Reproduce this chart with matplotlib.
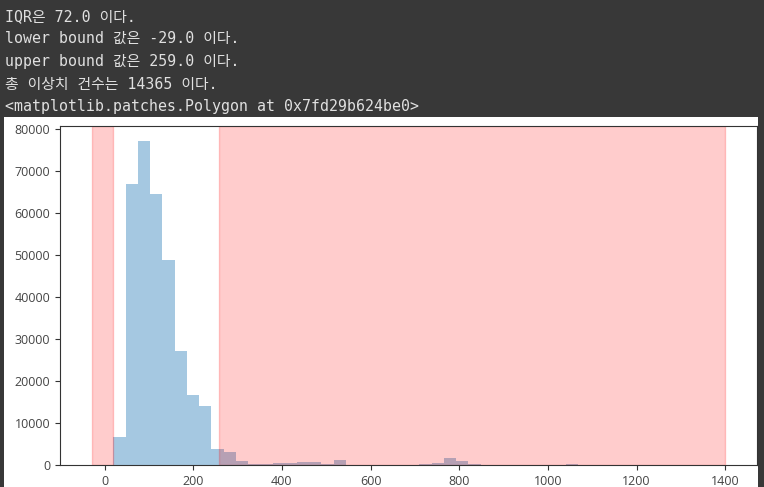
import numpy as np
import matplotlib
matplotlib.use('Agg')
import matplotlib.pyplot as plt
from matplotlib.patches import Rectangle

# notebook output printed above the chart
console_lines = [
    'IQR은 72.0 이다.',
    'lower bound 값은 -29.0 이다.',
    'upper bound 값은 259.0 이다.',
    '총 이상치 건수는 14365 이다.',
    '<matplotlib.patches.Polygon at 0x7fd29b624be0>',
]

lower_bound = -29.0
upper_bound = 259.0
data_min = 20.0
data_max = 1400.0
n_bins = 50

# histogram counts, one per bin
counts = [
    6600, 66800, 77200, 64400, 48800, 27100, 16700, 14000, 3700, 3000,
    900, 250, 250, 550, 550, 800, 800, 250, 1100, 60,
    40, 40, 40, 40, 60, 250, 550, 1700, 1000, 250,
    40, 30, 30, 30, 30, 30, 40, 250, 30, 20,
    20, 20, 20, 20, 20, 20, 20, 20, 20, 20,
]

x_ticks = [0, 200, 400, 600, 800, 1000, 1200, 1400]
y_ticks = [0, 10000, 20000, 30000, 40000, 50000, 60000, 70000, 80000]

W, H = 764, 487
fig = plt.figure(figsize=(W / 100, H / 100), dpi=100, facecolor='#383838')

mono = ['DejaVu Sans Mono', 'Noto Sans CJK KR']
for i, line in enumerate(console_lines):
    base = 20.7 + 22.6 * i
    fig.text(5 / W, 1 - base / H, line, family=mono, fontsize=10.7,
             color='#e0e0e0', va='baseline', ha='left')

# white output area behind the chart
fig.add_artist(Rectangle((4 / W, 0), (758 - 4) / W, (487 - 117) / H,
                         transform=fig.transFigure, facecolor='white',
                         edgecolor='none', zorder=-1))

ax = fig.add_axes([60 / W, (H - 465) / H, (757 - 60) / W, (465 - 126) / H])

edges = np.linspace(data_min, data_max, n_bins + 1)
centers = (edges[:-1] + edges[1:]) / 2
ax.hist(centers, bins=edges, weights=counts, color='#1f77b4', alpha=0.4,
        linewidth=0)

ax.axvspan(lower_bound, data_min, color='red', alpha=0.2)
ax.axvspan(upper_bound, data_max, color='red', alpha=0.2)

ax.set_xlim(-100.45, 1471.45)
ax.set_ylim(0, 80700)
ax.set_xticks(x_ticks)
ax.set_yticks(y_ticks)
ax.tick_params(labelsize=9, labelcolor='#444444', color='#333333',
               length=3.5)
for lab in ax.get_xticklabels() + ax.get_yticklabels():
    lab.set_family('Open Sans')
for s in ax.spines.values():
    s.set_color('#333333')

fig.savefig('out.png', dpi=100, facecolor=fig.get_facecolor())
